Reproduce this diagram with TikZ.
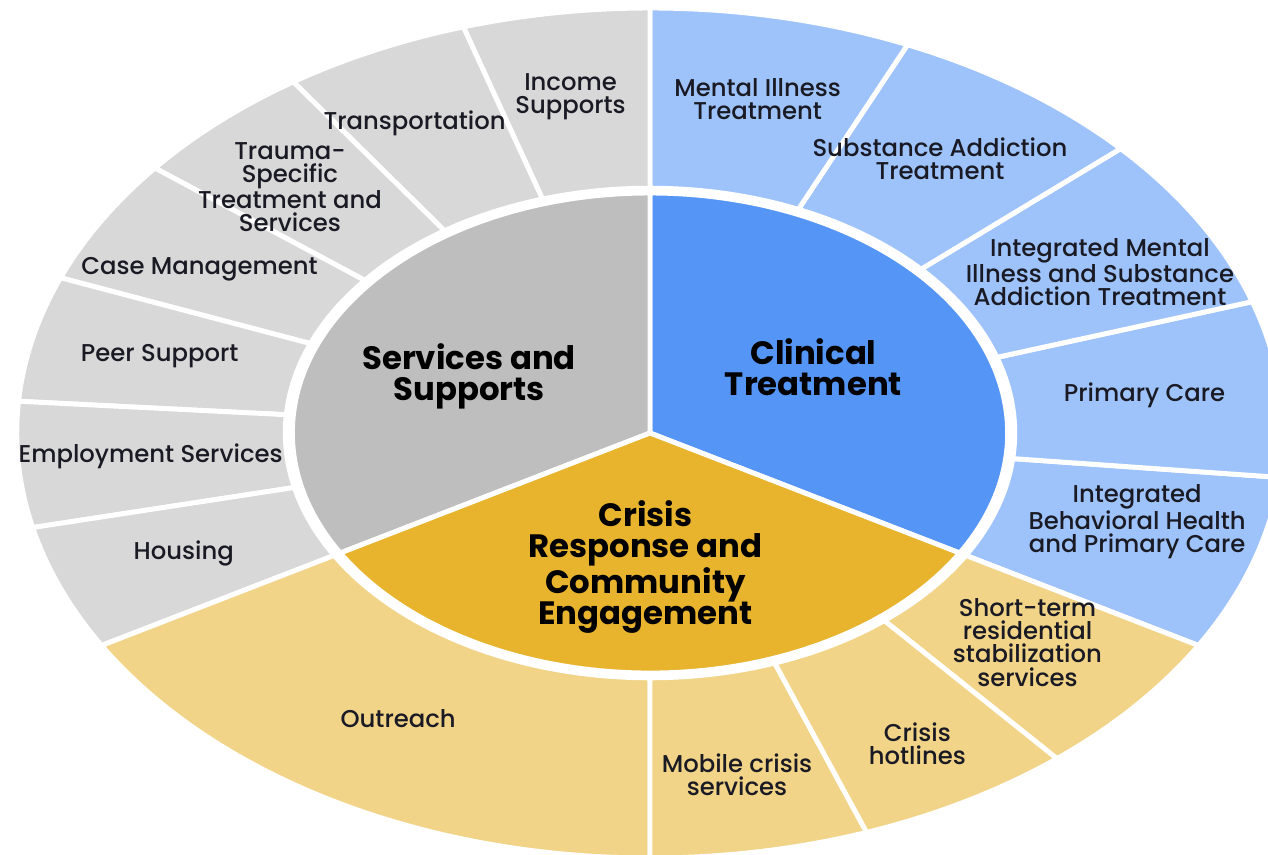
\documentclass[tikz,border=0pt]{standalone}
\usepackage{fontspec}
\setmainfont{Poppins}[UprightFont=* Medium, BoldFont=* Bold]
\usetikzlibrary{calc}
\definecolor{svcdark}{HTML}{BEBEBE}
\definecolor{svclight}{HTML}{D8D8D8}
\definecolor{clindark}{HTML}{5595F5}
\definecolor{clinlight}{HTML}{9EC3FA}
\definecolor{crisdark}{HTML}{E8B42E}
\definecolor{crislight}{HTML}{F1D487}
\definecolor{labelink}{HTML}{1A1A24}
\def\rdisc{6}
\def\rring{6.12}
\def\rout{10.625}
% one piece of the outer ring, from angle #2 to #3
\newcommand{\ringpiece}[3]{\filldraw[fill=#1, draw=white, line width=3.5pt]
  (#2:\rring) arc[start angle=#2, end angle=#3, radius=\rring]
  -- (#3:\rout) arc[start angle=#3, end angle=#2, radius=\rout] -- cycle;}
% one third of the inner disc
\newcommand{\discpiece}[3]{\filldraw[fill=#1, draw=white, line width=3.5pt]
  (0,0) -- (#2:\rdisc) arc[start angle=#2, end angle=#3, radius=\rdisc] -- cycle;}

\begin{document}
\begin{tikzpicture}[
    outlbl/.style={text=labelink, align=center, font=\fontsize{17.3}{16.4}\selectfont},
    inlbl/.style={text=black, align=center, font=\fontsize{23}{22.3}\selectfont\bfseries}]
    \useasboundingbox (-16.25,-10.525) rectangle (15.45,10.825);
    \fill[white] (-16.25,-10.525) rectangle (15.45,10.825);
    \clip (-16.25,-10.525) rectangle (15.45,10.825);
    \begin{scope}[xscale=1.49]
        % outer ring
        \foreach \i in {0,...,4} {\ringpiece{clinlight}{-30+24*\i}{-6+24*\i}}
        \foreach \i in {0,...,6} {\ringpiece{svclight}{90+120/7*\i}{90+120/7+120/7*\i}}
        \ringpiece{crislight}{210}{270}
        \foreach \i in {0,1,2} {\ringpiece{crislight}{270+20*\i}{290+20*\i}}
        % inner disc
        \discpiece{clindark}{-30}{90}
        \discpiece{svcdark}{90}{210}
        \discpiece{crisdark}{210}{330}
        % centre labels
        \node[inlbl] (services) at (155:3.35) {Services and\\Supports};
        \node[inlbl] (clinical) at (31:3.2) {Clinical\\Treatment};
        \node[inlbl] (crisis) at (268.7:3.35) {Crisis\\Response and\\Community\\Engagement};
        % clinical treatment
        \node[outlbl] (mental) at (77.8:8.55) {Mental Illness\\Treatment};
        \node[outlbl] (substance) at (54.6:8.4) {Substance Addiction\\Treatment};
        \node[outlbl] (integrated) at (28:8.55) {Integrated Mental\\Illness and Substance\\Addiction Treatment};
        \node[outlbl] (primary) at (6.4:8.35) {Primary Care};
        \node[outlbl] (behavioral) at (344.8:8.47) {Integrated\\Behavioral Health\\and Primary Care};
        % services and supports
        \node[outlbl] (income) at (99:8.52) {Income\\Supports};
        \node[outlbl] (transport) at (117:8.7) {Transportation};
        \node[outlbl] (trauma) at (134.5:8.62) {Trauma-\\Specific\\Treatment and\\Services};
        \node[outlbl] (casemgmt) at (151.5:8.6) {Case Management};
        \node[outlbl] (peer) at (166.8:8.45) {Peer Support};
        \node[outlbl] (employment) at (184:8.4) {Employment Services};
        \node[outlbl] (housing) at (201:8.38) {Housing};
        % crisis response
        \node[outlbl] (outreach) at (239.4:8.3) {Outreach};
        \node[outlbl] (mobile) at (279.7:8.67) {Mobile crisis\\services};
        \node[outlbl] (hotlines) at (300:8.97) {Crisis\\hotlines};
        \node[outlbl] (shortterm) at (320.4:8.22) {Short-term\\residential\\stabilization\\services};
    \end{scope}
\end{tikzpicture}
\end{document}
